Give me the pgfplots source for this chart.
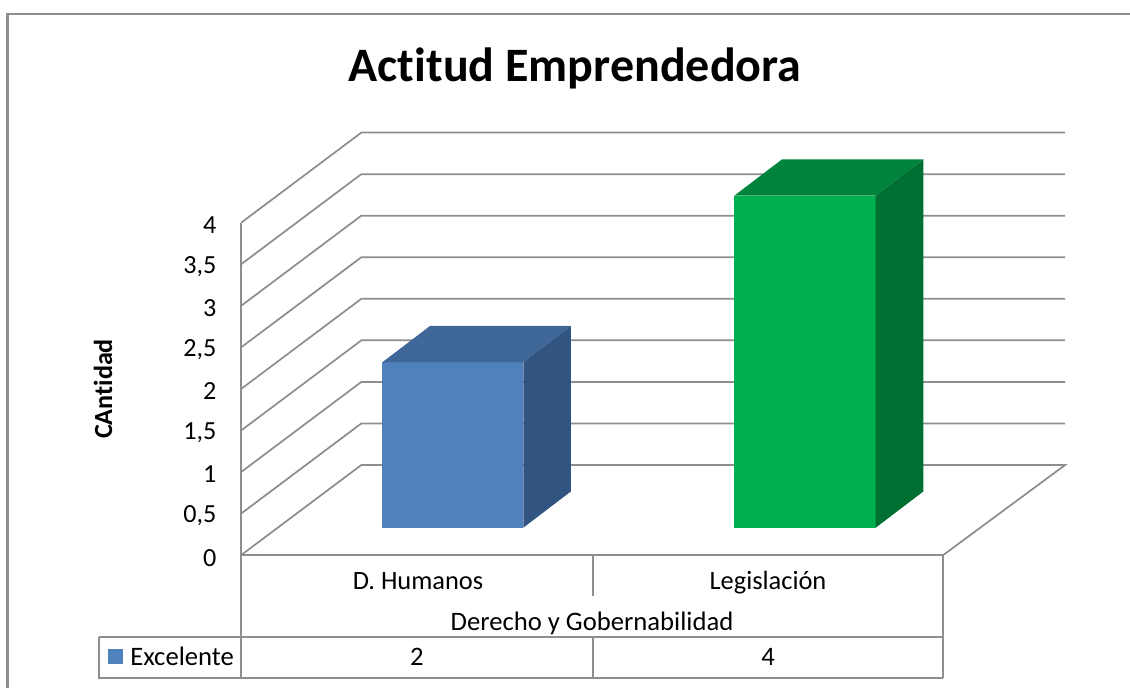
\documentclass[border=0pt]{standalone}
\usepackage{pgfplots}
\pgfplotsset{compat=1.18}
\usepackage{fontspec}
\setmainfont[Ligatures=NoCommon]{Carlito}
\definecolor{gridgray}{HTML}{8E8E8E}
\definecolor{bluefront}{HTML}{4F81BD}
\definecolor{bluetop}{HTML}{3F6797}
\definecolor{blueside}{HTML}{325480}
\definecolor{greenfront}{HTML}{00B050}
\definecolor{greentop}{HTML}{00843C}
\definecolor{greenside}{HTML}{006F32}
\begin{document}
\begin{tikzpicture}
\path[use as bounding box] (-180.975pt,416.25pt) rectangle ++(847.5pt,-516pt);
\begin{axis}[
  at={(0pt,0pt)}, anchor=origin,
  scale only axis, width=526.5pt, height=249.3pt,
  xmin=0, xmax=2, ymin=0, ymax=4,
  clip=false,
  axis x line=none,
  axis y line=left,
  axis line style={draw=gridgray,line width=1.5pt,-},
  ytick={0,0.5,1,1.5,2,2.5,3,3.5,4},
  yticklabels={0,{0,5},1,{1,5},2,{2,5},3,{3,5},4},
  major tick length=0pt,
  yticklabel style={font=\fontsize{19.6pt}{20pt}\selectfont,inner sep=0pt,xshift=-18.5pt,yshift=-2pt,anchor=east},
  grid=none,
]
% back-wall grid lines, projected depth offset 0.342 / 1.083 in data units
\addplot[gridgray,line width=1.3pt] coordinates {(0,0) (0.342,1.083) (2.347,1.083) (2,0) (0,0)};
\addplot[gridgray,line width=1.3pt] coordinates {(0,0.5) (0.342,1.583) (2.347,1.583)};
\addplot[gridgray,line width=1.3pt] coordinates {(0,1) (0.342,2.083) (2.347,2.083)};
\addplot[gridgray,line width=1.3pt] coordinates {(0,1.5) (0.342,2.583) (2.347,2.583)};
\addplot[gridgray,line width=1.3pt] coordinates {(0,2) (0.342,3.083) (2.347,3.083)};
\addplot[gridgray,line width=1.3pt] coordinates {(0,2.5) (0.342,3.583) (2.347,3.583)};
\addplot[gridgray,line width=1.3pt] coordinates {(0,3) (0.342,4.083) (2.347,4.083)};
\addplot[gridgray,line width=1.3pt] coordinates {(0,3.5) (0.342,4.583) (2.347,4.583)};
\addplot[gridgray,line width=1.3pt] coordinates {(0,4) (0.342,5.083) (2.347,5.083)};
% bar D. Humanos = 2
\addplot[fill=bluefront,draw=none] coordinates {(0.4017,0.3285) (0.8034,0.3285) (0.8034,2.319) (0.4017,2.319)} -- cycle;
\addplot[fill=bluetop,draw=none] coordinates {(0.4017,2.319) (0.8034,2.319) (0.9393,2.756) (0.5376,2.756)} -- cycle;
\addplot[fill=blueside,draw=none] coordinates {(0.8034,0.3285) (0.9393,0.7653) (0.9393,2.756) (0.8034,2.319)} -- cycle;
% bar Legislacion = 4
\addplot[fill=greenfront,draw=none] coordinates {(1.4046,0.3285) (1.8074,0.3285) (1.8074,4.324) (1.4046,4.324)} -- cycle;
\addplot[fill=greentop,draw=none] coordinates {(1.4046,4.324) (1.8074,4.324) (1.9433,4.761) (1.5405,4.761)} -- cycle;
\addplot[fill=greenside,draw=none] coordinates {(1.8074,0.3285) (1.9433,0.7653) (1.9433,4.761) (1.8074,4.324)} -- cycle;
\end{axis}
\begin{scope}[x=.75pt,y=-.75pt,xshift=-180.975pt,yshift=416.25pt]
\draw[gridgray,line width=1.6pt] (7.5,688) -- (7.5,14) -- (1130,14);
\draw[gridgray,line width=1.3pt] (241.3,555) -- (241.3,678) (593,555) -- (593,596) (943.3,555) -- (943.3,678)
  (99.3,636.7) -- (943.3,636.7) (99.3,636.7) -- (99.3,678) -- (943.3,678) (593,636.7) -- (593,678);
\fill[bluefront] (108,649.3) rectangle (123,664);
\node[font=\bfseries\fontsize{36pt}{40pt}\selectfont,anchor=base] at (575,81.5) {Actitud Emprendedora};
\node[font=\bfseries\fontsize{19.6pt}{22pt}\selectfont,rotate=90] at (103,389) {CAntidad};
\node[font=\fontsize{19.8pt}{22pt}\selectfont,anchor=base] at (418,589.5) {D. Humanos};
\node[font=\fontsize{19.8pt}{22pt}\selectfont,anchor=base] at (768,589.5) {Legislación};
\node[font=\fontsize{20pt}{22pt}\selectfont,anchor=base] at (592,630) {Derecho y Gobernabilidad};
\node[font=\fontsize{20pt}{22pt}\selectfont,anchor=base west,inner sep=0pt] at (130,665) {Excelente};
\node[font=\fontsize{20pt}{22pt}\selectfont,anchor=base] at (417,665) {2};
\node[font=\fontsize{20pt}{22pt}\selectfont,anchor=base] at (768,665) {4};
\end{scope}
\end{tikzpicture}
\end{document}
